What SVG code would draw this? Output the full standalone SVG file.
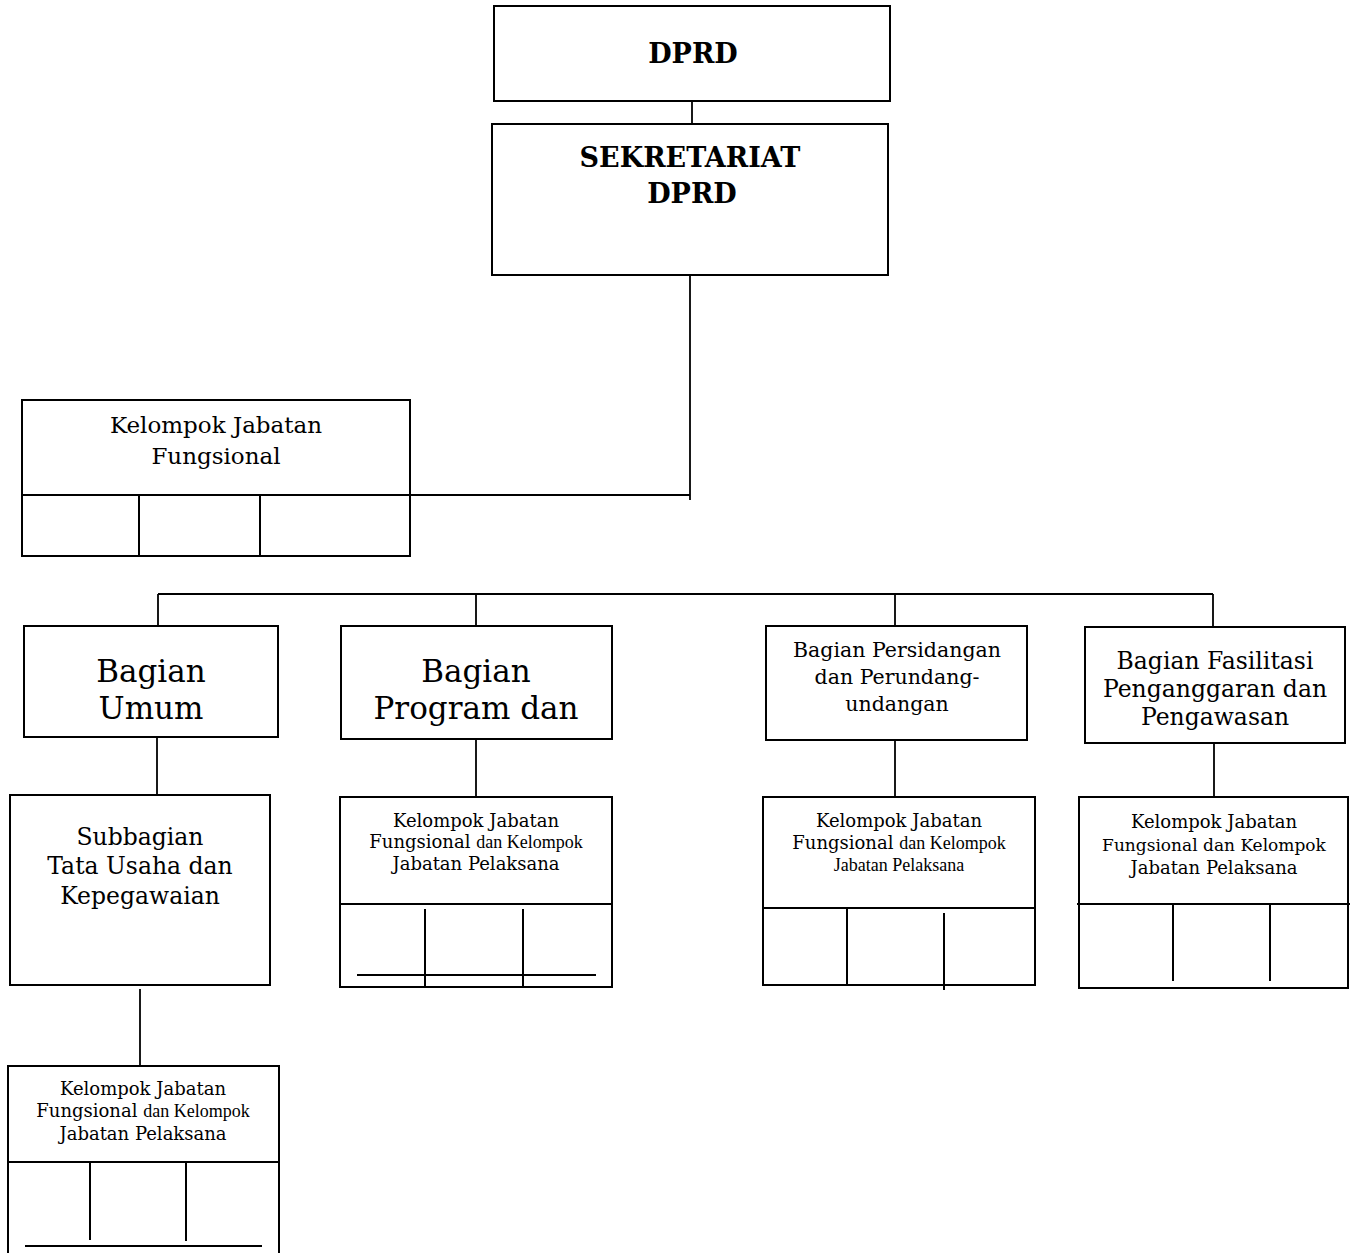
<svg xmlns="http://www.w3.org/2000/svg" width="1353" height="1253" viewBox="0 0 1353 1253">
<style>
.box{fill:#fff;stroke:#000;stroke-width:2}
.ln{fill:none;stroke:#000;stroke-width:1.8}
.cell{fill:none;stroke:#000;stroke-width:2}
text{font-family:"DejaVu Serif","Liberation Serif",serif;fill:#000;text-anchor:middle}
.b{font-weight:bold;font-size:27px}
.big{font-size:31px}
.s{font-size:18px}
.n{font-family:"Liberation Serif",serif;font-size:18px}
</style>
<rect width="1353" height="1253" fill="#fff"/>
<g id="connectors">
<path class="ln" d="M692 101V124"/>
<path class="ln" d="M690 275V500M410 495H690"/>
<path class="ln" d="M158 594H1213M158 594V626M476 594V626M895 594V626M1213 594V627"/>
<path class="ln" d="M157 737V795"/>
<path class="ln" d="M140 989V1066"/>
<path class="ln" d="M476 739V797"/>
<path class="ln" d="M895 740V797"/>
<path class="ln" d="M1214 743V797"/>
</g>
<g id="dprd">
<rect class="box" x="494" y="6" width="396" height="95"/>
<text class="b" x="693" y="63">DPRD</text>
</g>
<g id="sekretariat">
<rect class="box" x="492" y="124" width="396" height="151"/>
<text class="b" x="690" y="167">SEKRETARIAT</text>
<text class="b" x="692" y="203">DPRD</text>
</g>
<g id="kjf">
<rect class="box" x="22" y="400" width="388" height="156"/>
<path class="cell" d="M22 495H410M139 495V556M260 495V556"/>
<text x="216" y="433" font-size="23">Kelompok Jabatan</text>
<text x="216" y="464" font-size="23">Fungsional</text>
</g>
<g id="bagian-umum">
<rect class="box" x="24" y="626" width="254" height="111"/>
<text class="big" x="151" y="682">Bagian</text>
<text class="big" x="151" y="719">Umum</text>
</g>
<g id="bagian-program">
<rect class="box" x="341" y="626" width="271" height="113"/>
<text class="big" x="476" y="682">Bagian</text>
<text class="big" x="476" y="719">Program dan</text>
</g>
<g id="bagian-persidangan">
<rect class="box" x="766" y="626" width="261" height="114"/>
<text x="897" y="657" font-size="20.5">Bagian Persidangan</text>
<text x="897" y="684" font-size="20.5">dan Perundang-</text>
<text x="897" y="711" font-size="20.5">undangan</text>
</g>
<g id="bagian-fasilitasi">
<rect class="box" x="1085" y="627" width="260" height="116"/>
<text x="1215" y="669" font-size="23.5">Bagian Fasilitasi</text>
<text x="1215" y="697" font-size="23.5">Penganggaran dan</text>
<text x="1215" y="725" font-size="23.5">Pengawasan</text>
</g>
<g id="subbagian-tu">
<rect class="box" x="10" y="795" width="260" height="190"/>
<text x="140" y="845" font-size="23.5">Subbagian</text>
<text x="140" y="874" font-size="23.5">Tata Usaha dan</text>
<text x="140" y="904" font-size="23.5">Kepegawaian</text>
</g>
<g id="kjf-program">
<rect class="box" x="340" y="797" width="272" height="190"/>
<path class="cell" d="M340 904H612M425 909V987M523 909V987M357 975H596"/>
<text class="s" x="476" y="827">Kelompok Jabatan</text>
<text class="s" x="476" y="848">Fungsional <tspan class="n">dan Kelompok</tspan></text>
<text class="s" x="476" y="870">Jabatan Pelaksana</text>
</g>
<g id="kjf-persidangan">
<rect class="box" x="763" y="797" width="272" height="188"/>
<path class="cell" d="M763 908H1035M847 908V985M944 913V990"/>
<text class="s" x="899" y="827">Kelompok Jabatan</text>
<text class="s" x="899" y="849">Fungsional <tspan class="n" font-size="19">dan Kelompok</tspan></text>
<text class="n" x="899" y="871" font-size="19">Jabatan Pelaksana</text>
</g>
<g id="kjf-fasilitasi">
<rect class="box" x="1079" y="797" width="269" height="191"/>
<path class="cell" d="M1077 904H1350M1173 904V981M1270 904V981"/>
<text class="s" x="1214" y="828">Kelompok Jabatan</text>
<text x="1214" y="851" font-size="17">Fungsional dan Kelompok</text>
<text class="s" x="1214" y="874">Jabatan Pelaksana</text>
</g>
<g id="kjf-umum">
<path class="box" d="M8 1253V1066H279V1253"/>
<path class="cell" d="M8 1162H279M90 1162V1240M186 1162V1241M25 1246H262"/>
<text class="s" x="143" y="1095">Kelompok Jabatan</text>
<text class="s" x="143" y="1117">Fungsional <tspan class="n">dan Kelompok</tspan></text>
<text class="s" x="143" y="1140">Jabatan Pelaksana</text>
</g>
</svg>
